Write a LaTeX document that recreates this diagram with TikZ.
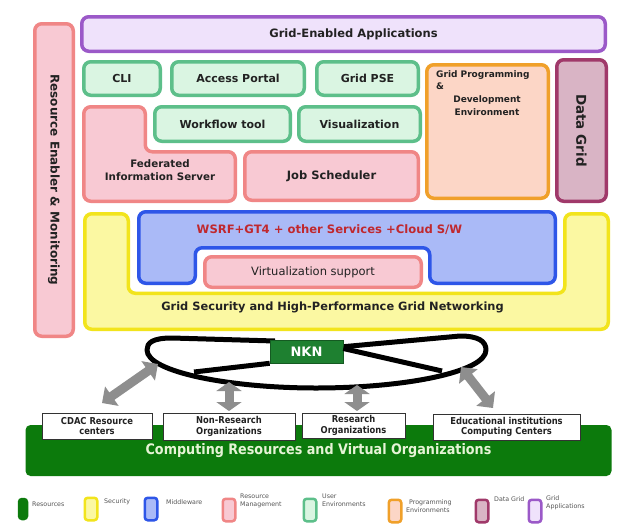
\documentclass[tikz,border=0pt]{standalone}
\usepackage{fontspec}
\setmainfont{DejaVu Sans}
\newfontfamily\condfont{DejaVu Sans}[FakeStretch=0.88]
\usetikzlibrary{arrows.meta}

\definecolor{appdraw}{HTML}{9B59C8}\definecolor{appfill}{HTML}{EFE2FB}
\definecolor{uedraw}{HTML}{5DBF8A}\definecolor{uefill}{HTML}{DAF5E2}
\definecolor{rmdraw}{HTML}{F08686}\definecolor{rmfill}{HTML}{F8C9D3}
\definecolor{pedraw}{HTML}{F0A02A}\definecolor{pefill}{HTML}{FCD6C6}
\definecolor{dgdraw}{HTML}{A0396A}\definecolor{dgfill}{HTML}{D9B4C5}
\definecolor{secdraw}{HTML}{F2E41C}\definecolor{secfill}{HTML}{FBF8A2}
\definecolor{mwdraw}{HTML}{2E56E8}\definecolor{mwfill}{HTML}{AABAF7}
\definecolor{resgreen}{HTML}{0C7A0C}
\definecolor{nkngreen}{HTML}{1E8030}
\definecolor{txt}{HTML}{222222}
\definecolor{wsrfred}{HTML}{C0282E}
\definecolor{legtxt}{HTML}{555555}
\definecolor{arrowgray}{HTML}{8E8E8E}
\definecolor{restxt}{HTML}{E6F4D6}

\begin{document}
\begin{tikzpicture}[x=1pt,y=-1pt,
  layer/.style={draw, line width=3.5pt, rounded corners=7pt, inner sep=0pt,
    text=txt, font=\bfseries\fontsize{11}{13}\selectfont, align=center},
  appbox/.style={layer, draw=appdraw, fill=appfill},
  uebox/.style={layer, draw=uedraw, fill=uefill},
  rmbox/.style={layer, draw=rmdraw, fill=rmfill},
  pebox/.style={layer, draw=pedraw, fill=pefill},
  dgbox/.style={layer, draw=dgdraw, fill=dgfill},
  secbox/.style={layer, draw=secdraw, fill=secfill},
  mwbox/.style={layer, draw=mwdraw, fill=mwfill},
  orgbox/.style={draw=black!80, line width=0.8pt, fill=white, inner sep=0pt,
    text=txt, font=\condfont\bfseries\fontsize{9.5}{10.5}\selectfont, align=center},
  fatarrow/.style={draw=arrowgray, line width=9pt,
    {Triangle[width=23pt,length=12pt]}-{Triangle[width=23pt,length=12pt]}},
  ring/.style={draw=black, line width=5pt, line join=round},
  legicon/.style={draw, line width=2.5pt, rounded corners=3pt, inner sep=0pt,
    minimum width=12.5pt, minimum height=22.5pt},
  legtext/.style={text=legtxt, font=\fontsize{6.3}{7.5}\selectfont, align=left,
    inner sep=0pt, anchor=west}
]
\useasboundingbox[fill=white] (0,0) rectangle (634,525);

% ---------- application stack ----------
\node[rmbox, rotate=-90, minimum width=312.5pt, minimum height=38.5pt,
      font=\bfseries\fontsize{12}{14}\selectfont] (rem) at (54,180)
      {Resource Enabler \& Monitoring};

\node[appbox, minimum width=523.5pt, minimum height=34.5pt,
      label={[xshift=10pt, text=txt, font=\bfseries\fontsize{11.5}{13}\selectfont]center:Grid-Enabled Applications}]
      (apps) at (343.5,34) {};

\node[uebox, minimum width=76.5pt,  minimum height=33.5pt] (cli)    at (122,78.5)   {CLI};
\node[uebox, minimum width=132.5pt, minimum height=33.5pt] (portal) at (238,78.5)   {Access Portal};
\node[uebox, minimum width=101.5pt, minimum height=33.5pt] (pse)    at (367.5,78.5) {Grid PSE};
\node[uebox, minimum width=135.5pt, minimum height=34.5pt] (flow)   at (222.5,124)  {Workflow tool};
\node[uebox, minimum width=121.5pt, minimum height=34.5pt] (vis)    at (359.5,124)  {Visualization};
\node[rmbox, minimum width=173.5pt, minimum height=48.5pt,
      font=\bfseries\fontsize{11.5}{13}\selectfont] (jobs) at (331.5,176) {Job Scheduler};

% Federated information server (L-shaped)
\draw[rmbox] (83.75,106.75) -- (145.25,106.75) -- (145.25,151.75) -- (235.25,151.75)
  -- (235.25,201.25) -- (83.75,201.25) -- cycle;
\node[text=txt, font=\bfseries\fontsize{10.3}{13}\selectfont, align=center] (fis) at (160,170)
  {Federated\\Information Server};

% Programming environment
\node[pebox, minimum width=121.5pt, minimum height=133.5pt] (gpde) at (487.5,131.5) {};
\node[text=txt, font=\bfseries\fontsize{9}{12}\selectfont, align=left, anchor=north west,
      inner sep=0pt] (gpdea) at (436,70) {Grid Programming\\\&};
\node[text=txt, font=\bfseries\fontsize{9}{13}\selectfont, align=center] (gpdeb) at (487,106)
  {Development\\Environment};

% Data grid
\node[dgbox, rotate=-90, minimum width=141.5pt, minimum height=49.5pt,
      font=\bfseries\fontsize{13.5}{15}\selectfont] (dgrid) at (581.5,130.5) {Data Grid};

% ---------- security / middleware ----------
\draw[secbox] (84.75,213.75) -- (128.25,213.75) -- (128.25,293.25) -- (564.75,293.25)
  -- (564.75,213.75) -- (608.25,213.75) -- (608.25,329.25) -- (84.75,329.25) -- cycle;
\node[text=txt, font=\bfseries\fontsize{11.4}{13}\selectfont] (sec) at (332.5,307)
  {Grid Security and High-Performance Grid Networking};

\draw[mwbox] (138.75,211.75) -- (555.25,211.75) -- (555.25,283.25) -- (429.75,283.25)
  -- (429.75,247.75) -- (195.25,247.75) -- (195.25,283.25) -- (138.75,283.25) -- cycle;
\node[text=wsrfred, font=\bfseries\fontsize{11.6}{13}\selectfont] (mw) at (329.5,230)
  {WSRF+GT4 + other Services +Cloud S/W};

\node[rmbox, minimum width=216.5pt, minimum height=30.5pt,
      font=\fontsize{11.5}{13}\selectfont] (virt) at (313,272) {Virtualization support};

% ---------- NKN network ----------
\draw[ring] (275,341) -- (172,338) .. controls (152,338) and (147,343) .. (147,350)
  .. controls (147,372) and (230,388) .. (316,388)
  .. controls (405,388) and (486,372) .. (486,350)
  .. controls (486,341) and (478,336) .. (460,336) -- (340,347);
\coordinate (crossl) at (194,372);
\coordinate (crossr) at (442,371);
\node[fill=nkngreen, draw=nkngreen!70!black, line width=0.6pt, minimum width=73pt,
      minimum height=23pt, inner sep=0pt, text=white,
      font=\bfseries\fontsize{13}{15}\selectfont] (nkn) at (306.5,351.5) {NKN};
\draw[ring] (nkn.south west) -- (crossl);
\draw[ring] ([yshift=3pt]nkn.east) -- (crossr);

% ---------- computing resources ----------
\node[fill=resgreen, rounded corners=5pt, minimum width=586pt, minimum height=51pt,
      inner sep=0pt, text=restxt, font=\condfont\bfseries\fontsize{14.5}{16}\selectfont]
      (res) at (318.5,450.5) {\raisebox{-3pt}{Computing Resources and Virtual Organizations}};

\node[orgbox, minimum width=110pt, minimum height=26pt] (cdac)  at (97,426)    {CDAC Resource\\centers};
\node[orgbox, minimum width=132pt, minimum height=27pt] (nonres) at (229,426.5) {Non-Research\\Organizations};
\node[orgbox, minimum width=103pt, minimum height=25pt] (resorg) at (353.5,425.5) {Research\\Organizations};
\node[orgbox, minimum width=147pt, minimum height=26pt] (edu)   at (506.5,427)  {Educational institutions\\Computing Centers};

% links between the network and the organisations
\coordinate (a1n) at (158,364); \coordinate (a1s) at (102,403);
\coordinate (a2n) at (229,382); \coordinate (a2s) at (229,411);
\coordinate (a3n) at (357,385); \coordinate (a3s) at (357,411);
\coordinate (a4n) at (461,367); \coordinate (a4s) at (493,408);
\draw[fatarrow] (a1s) -- (a1n);
\draw[fatarrow, {Triangle[width=25pt,length=9pt]}-{Triangle[width=25pt,length=9pt]}] (a2s) -- (a2n);
\draw[fatarrow, {Triangle[width=25pt,length=9pt]}-{Triangle[width=25pt,length=9pt]}] (a3s) -- (a3n);
\draw[fatarrow] (a4s) -- (a4n);

% ---------- legend ----------
\node[legicon, draw=resgreen, fill=resgreen, minimum width=8pt, minimum height=20pt] (lg1) at (23,509) {};
\node[legtext] (lt1) at (32,504) {Resources};
\node[legicon, draw=secdraw, fill=secfill] (lg2) at (91,509) {};
\node[legtext] (lt2) at (104,502) {Security};
\node[legicon, draw=mwdraw, fill=mwfill] (lg3) at (151,509) {};
\node[legtext] (lt3) at (166,502) {Middleware};
\node[legicon, draw=rmdraw, fill=rmfill] (lg4) at (229,510) {};
\node[legtext] (lt4) at (240,501) {Resource\\Management};
\node[legicon, draw=uedraw, fill=uefill] (lg5) at (310,510) {};
\node[legtext] (lt5) at (322,500) {User\\Environments};
\node[legicon, draw=pedraw, fill=pefill] (lg6) at (395,511) {};
\node[legtext] (lt6) at (406,506) {\hspace*{3pt}Programming\\Environments};
\node[legicon, draw=dgdraw, fill=dgfill] (lg7) at (482,511) {};
\node[legtext] (lt7) at (494,499) {Data Grid};
\node[legicon, draw=appdraw, fill=appfill] (lg8) at (535,511) {};
\node[legtext] (lt8) at (546,503) {Grid\\Applications};
\end{tikzpicture}
\end{document}
